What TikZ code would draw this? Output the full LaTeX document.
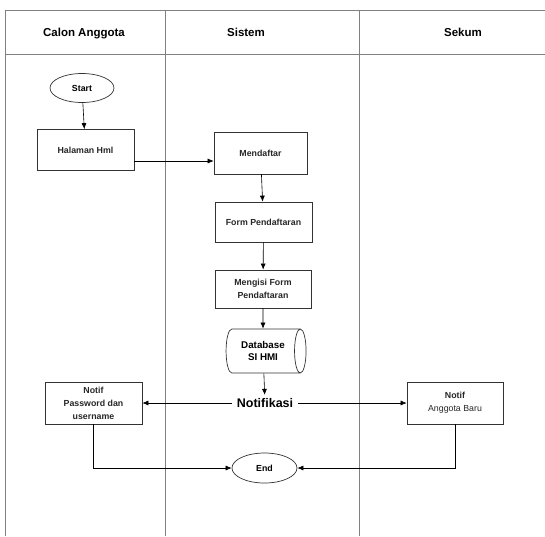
\documentclass[tikz,border=0pt]{standalone}
\usepackage{fontspec}
\setmainfont{Liberation Sans}
\usetikzlibrary{shapes.geometric,arrows.meta}
\begin{document}
\begin{tikzpicture}[x=1pt,y=-1pt,
  lane/.style={draw=black!50,line width=1pt},
  proc/.style={draw=black!80,line width=0.7pt,minimum width=97pt,minimum height=41pt,
    inner sep=1pt,align=center,font=\fontsize{8.8}{13}\selectfont\bfseries,text=black!85},
  term/.style={ellipse,draw=black!80,line width=0.7pt,minimum width=64pt,minimum height=29pt,
    inner sep=0pt,font=\fontsize{8.8}{10}\selectfont\bfseries},
  db/.style={cylinder,draw=black!80,line width=0.7pt,minimum width=44pt,minimum height=80pt,
    shape aspect=0.6,inner sep=0pt,align=center,font=\fontsize{9.8}{12}\selectfont\bfseries},
  head/.style={anchor=base,font=\fontsize{11.5}{13}\selectfont\bfseries},
  flow/.style={draw=black,line width=0.6pt,-{Latex[length=6pt,width=5pt]}}]
\useasboundingbox (0,0) rectangle (545,536);
% swimlane frame
\draw[lane] (545,10) -- (5,10) -- (5,536);
\draw[lane] (5,54) -- (545,54);
\draw[lane] (165,10) -- (165,536);
\draw[lane] (359,10) -- (359,536);
\node[head] (h1) at (84,36) {Calon Anggota};
\node[head] (h2) at (246,36) {Sistem};
\node[head] (h3) at (463,36) {Sekum};
% nodes
\node[term] (start) at (82,88) {Start};
\node[proc] (hml) at (85.5,150) {Halaman Hml};
\node[proc,minimum width=93pt,minimum height=42pt] (daftar) at (260.5,153) {Mendaftar};
\node[proc,minimum width=97pt,minimum height=40pt] (form) at (263.5,222) {Form Pendaftaran};
\node[proc,minimum width=96pt,minimum height=38pt] (isi) at (263,289) {Mengisi Form\\Pendaftaran};
\node[db] (dbase) at (263,351) {Database\\SI HMI};
\node[font=\fontsize{12.5}{14}\selectfont\bfseries,inner xsep=5pt] (notif) at (265,403) {Notifikasi};
\node[proc,minimum width=97pt,minimum height=42pt] (npass) at (93.5,403) {Notif\\Password dan\\username};
\node[proc,minimum width=96pt,minimum height=42pt] (nbaru) at (455,403) {Notif\\\mdseries Anggota Baru};
\node[term,minimum width=65pt,minimum height=30pt] (end) at (264.5,468) {End};
% connectors
\draw[flow] (start) -- (hml);
\draw[flow] (hml.east |- 0,161) -- (daftar.west |- 0,161);
\draw[flow] (daftar) -- (form);
\draw[flow] (form) -- (isi);
\draw[flow] (isi) -- (dbase);
\draw[flow] (dbase) -- (notif);
\draw[flow] (notif) -- (npass);
\draw[flow] (notif) -- (nbaru);
\draw[flow] (npass.south) |- (end.west);
\draw[flow] (nbaru.south) |- (end.east);
\end{tikzpicture}
\end{document}
